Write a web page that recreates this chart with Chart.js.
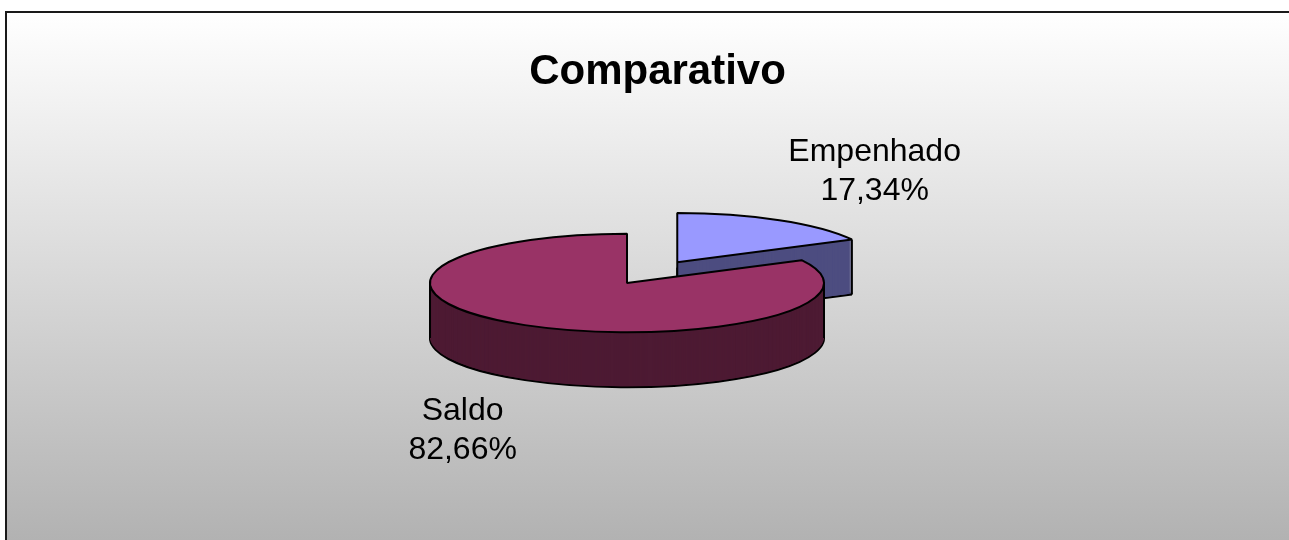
<!DOCTYPE html>
<html>
<head>
<meta charset="utf-8">
<script src="https://cdn.jsdelivr.net/npm/chart.js@4.4.1/dist/chart.umd.min.js"></script>
<style>
  html, body { margin: 0; padding: 0; background: #fff; overflow: hidden; }
  #wrap { width: 1289px; height: 540px; }
</style>
</head>
<body>
<div id="wrap"><canvas id="pieChart"></canvas></div>
<script>
const chartTitle = 'Comparativo';
const categories = ['Empenhado', 'Saldo'];
const values = [17.34, 82.66];
const valueLabels = ['17,34%', '82,66%'];

const topColors = ['#9999FF', '#993366'];
const sideColors = ['#4D4D80', '#4D1A33'];
const explode = [97, 0];   // how far each slice is pulled out

// fake 3d: squash the pie vertically and stack copies for the side
const RADIUS = 197, TILT = 0.25, DEPTH = 55;
const FONT = '"Liberation Sans", Arial, sans-serif';
const EDGE = 2;

function inRange(a, s, e) {
    for (const k of [-1, 0, 1]) {
        const t = a + k * 2 * Math.PI;
        if (t >= s - 1e-9 && t <= e + 1e-9) return true;
    }
    return false;
}

// slice geometry in screen space
function slicePoint(arc, i, angle, r) {
    const mid = (arc.startAngle + arc.endAngle) / 2;
    const ex = Math.cos(mid) * explode[i], ey = Math.sin(mid) * explode[i];
    return {
        x: arc.x + ex + Math.cos(angle) * r,
        y: arc.y + (ey + Math.sin(angle) * r) * TILT
    };
}

const backgroundPlugin = {
    id: 'background',
    beforeDraw(chart) {
        const ctx = chart.ctx;
        const w = chart.width, h = chart.height;
        ctx.save();
        ctx.fillStyle = '#ffffff';
        ctx.fillRect(0, 0, w, h);
        const grad = ctx.createLinearGradient(0, 12, 0, h);
        grad.addColorStop(0, '#ffffff');
        grad.addColorStop(1, '#b2b2b2');
        ctx.fillStyle = grad;
        ctx.fillRect(6, 12, w, h);
        ctx.strokeStyle = '#1a1a1a';
        ctx.lineWidth = 2;
        ctx.strokeRect(6, 12, w + 20, h + 20);
        // title, centred on the frame
        ctx.fillStyle = '#000';
        ctx.font = 'bold 42px ' + FONT;
        ctx.textAlign = 'center';
        ctx.textBaseline = 'alphabetic';
        ctx.fillText(chartTitle, (6 + w + 20) / 2, 84);
        ctx.restore();
    }
};

const pie3dPlugin = {
    id: 'pie3d',
    beforeDatasetsDraw(chart) {
        const ctx = chart.ctx;
        const meta = chart.getDatasetMeta(0);
        const base = ctx.getTransform();
        // stroke with an unsquashed pen so outlines keep their width
        ctx.stroke = function () {
            this.save();
            this.setTransform(base);
            CanvasRenderingContext2D.prototype.stroke.call(this);
            this.restore();
        };

        const order = meta.data.map((arc, i) => ({ arc, i, mid: (arc.startAngle + arc.endAngle) / 2 }))
            .sort((a, b) => Math.sin(a.mid) - Math.sin(b.mid));

        order.forEach(({ arc, i, mid }) => {
            const ex = Math.cos(mid) * explode[i], ey = Math.sin(mid) * explode[i];
            const drawFace = (dy, color, border) => {
                ctx.save();
                ctx.translate(arc.x, arc.y + dy);
                ctx.scale(1, TILT);
                ctx.translate(-arc.x + ex, -arc.y + ey);
                const face = Object.create(arc);
                face.options = Object.assign({}, arc.options, { backgroundColor: color, borderWidth: border });
                face.draw(ctx);
                ctx.restore();
            };

            drawFace(DEPTH, sideColors[i], EDGE);
            for (let d = DEPTH - 1; d > 0; d--) drawFace(d, sideColors[i], 0);

            // vertical edges that can be seen
            const s = arc.startAngle, e = arc.endAngle;
            const eps = 1e-6;
            const edges = [];
            if (Math.cos(e) > eps || Math.cos(s) < -eps) edges.push(slicePoint(arc, i, mid, 0));
            if (Math.sin(s) > eps || Math.cos(s) < -eps) edges.push(slicePoint(arc, i, s, RADIUS));
            if (Math.sin(e) > eps || Math.cos(e) > eps) edges.push(slicePoint(arc, i, e, RADIUS));
            [0, Math.PI].forEach(a => { if (inRange(a, s, e)) edges.push(slicePoint(arc, i, a, RADIUS)); });
            ctx.save();
            ctx.strokeStyle = '#000';
            ctx.lineWidth = EDGE;
            edges.forEach(p => {
                ctx.beginPath();
                ctx.moveTo(p.x, p.y);
                ctx.lineTo(p.x, p.y + DEPTH);
                ctx.stroke();
            });
            ctx.restore();

            drawFace(0, topColors[i], EDGE);
        });

        delete ctx.stroke;
        return false;
    },
    afterDraw(chart) {
        const ctx = chart.ctx;
        const meta = chart.getDatasetMeta(0);
        ctx.save();
        ctx.fillStyle = '#000';
        ctx.font = '32px ' + FONT;
        ctx.textAlign = 'center';
        ctx.textBaseline = 'alphabetic';
        const lineH = 39;
        meta.data.forEach((arc, i) => {
            const mid = (arc.startAngle + arc.endAngle) / 2;
            const p = slicePoint(arc, i, mid, RADIUS);
            if (Math.sin(mid) > 0) p.y += DEPTH;
            const lines = [categories[i], valueLabels[i]];
            const blockW = Math.max(...lines.map(t => ctx.measureText(t).width));
            const left = Math.cos(mid) > 0 ? p.x + 9 : p.x - 8 - blockW;
            const first = Math.sin(mid) < 0 ? p.y - 20 - lineH * (lines.length - 1) : p.y + 40;
            lines.forEach((t, k) => ctx.fillText(t, left + blockW / 2, first + k * lineH));
        });
        ctx.restore();
    }
};

new Chart(document.getElementById('pieChart'), {
    type: 'pie',
    data: {
        labels: categories,
        datasets: [{
            data: values,
            backgroundColor: topColors,
            borderColor: '#000',
            borderWidth: EDGE,
            radius: RADIUS
        }]
    },
    options: {
        responsive: true,
        maintainAspectRatio: false,
        animation: false,
        layout: { padding: { left: 0, right: 35, top: 26, bottom: 0 } },
        plugins: {
            legend: { display: false },
            tooltip: { enabled: false },
            title: { display: false }
        }
    },
    plugins: [backgroundPlugin, pie3dPlugin]
});
</script>
</body>
</html>
